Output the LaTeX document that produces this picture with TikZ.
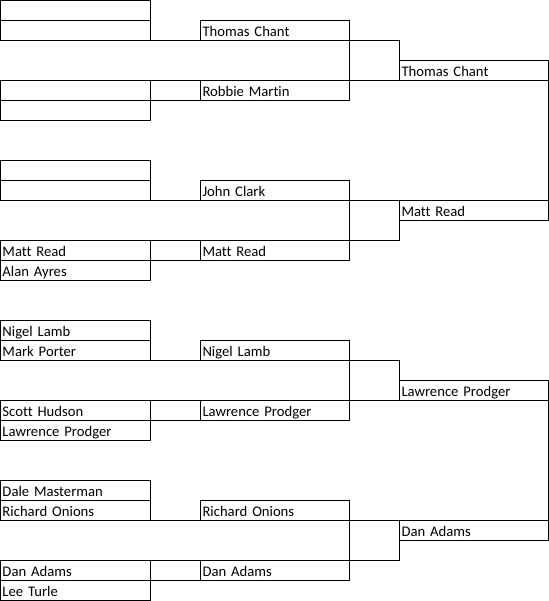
\documentclass[tikz,border=0pt]{standalone}
\usepackage{fontspec}
\setmainfont[Ligatures={NoCommon}]{Carlito}
\begin{document}
\begin{tikzpicture}[x=0.75pt,y=-0.75pt,
  line width=0.75pt, line cap=rect,
  cellbase/.style={draw, rectangle, anchor=north west, inner xsep=1.5pt, inner ysep=0pt,
    outer sep=0pt, text height=12pt, text depth=3pt, align=left,
    font=\fontsize{11pt}{13pt}\selectfont},
  rone/.style={cellbase, text width=109.5pt},
  rtwo/.style={cellbase, text width=108.75pt},
  link/.style={draw}]
\useasboundingbox (-0.5,-0.5) rectangle (548.5,600.5);
% round 1
\node[rone] (a1) at (0,0) {};
\node[rone] (a2) at (0,20) {};
\node[rone] (a3) at (0,80) {};
\node[rone] (a4) at (0,100) {};
\node[rone] (a5) at (0,160) {};
\node[rone] (a6) at (0,180) {};
\node[rone] (a7) at (0,240) {Matt Read};
\node[rone] (a8) at (0,260) {Alan Ayres};
\node[rone] (a9) at (0,320) {Nigel Lamb};
\node[rone] (a10) at (0,340) {Mark Porter};
\node[rone] (a11) at (0,400) {Scott Hudson};
\node[rone] (a12) at (0,420) {Lawrence Prodger};
\node[rone] (a13) at (0,480) {Dale Masterman};
\node[rone] (a14) at (0,500) {Richard Onions};
\node[rone] (a15) at (0,560) {Dan Adams};
\node[rone] (a16) at (0,580) {Lee Turle};
% round 2
\node[rtwo] (b1) at (200,20) {Thomas Chant};
\node[rtwo] (b2) at (200,80) {Robbie Martin};
\node[rtwo] (b3) at (200,180) {John Clark};
\node[rtwo] (b4) at (200,240) {Matt Read};
\node[rtwo] (b5) at (200,340) {Nigel Lamb};
\node[rtwo] (b6) at (200,400) {Lawrence Prodger};
\node[rtwo] (b7) at (200,500) {Richard Onions};
\node[rtwo] (b8) at (200,560) {Dan Adams};
% round 3
\node[rtwo] (c1) at (399,60) {Thomas Chant};
\node[rtwo] (c2) at (399,200) {Matt Read};
\node[rtwo] (c3) at (399,380) {Lawrence Prodger};
\node[rtwo] (c4) at (399,520) {Dan Adams};
% group 1
\draw[link] (a2.south east) -- (b1.south west);
\draw[link] (a3.north east) -- (b2.north west);
\draw[link] (a3.south east) -- (b2.south west);
\draw[link] (b1.south east) -- (b2.north east);
\draw[link] (b1.south east) -| (c1.north west);
\draw[link] (b2.north east) -- (c1.south west);
% group 2
\draw[link] (a6.south east) -- (b3.south west);
\draw[link] (a7.north east) -- (b4.north west);
\draw[link] (a7.south east) -- (b4.south west);
\draw[link] (b3.south east) -- (b4.north east);
\draw[link] (b3.south east) -- (c2.north west);
\draw[link] (b4.north east) -| (c2.south west);
% group 3
\draw[link] (a10.south east) -- (b5.south west);
\draw[link] (a11.north east) -- (b6.north west);
\draw[link] (a11.south east) -- (b6.south west);
\draw[link] (b5.south east) -- (b6.north east);
\draw[link] (b5.south east) -| (c3.north west);
\draw[link] (b6.north east) -- (c3.south west);
% group 4
\draw[link] (a14.south east) -- (b7.south west);
\draw[link] (a15.north east) -- (b8.north west);
\draw[link] (a15.south east) -- (b8.south west);
\draw[link] (b7.south east) -- (b8.north east);
\draw[link] (b7.south east) -- (c4.north west);
\draw[link] (b8.north east) -| (c4.south west);
% finals
\draw[link] (c1.south east) -- (c2.north east);
\draw[link] (c3.south east) -- (c4.north east);
\end{tikzpicture}
\end{document}
